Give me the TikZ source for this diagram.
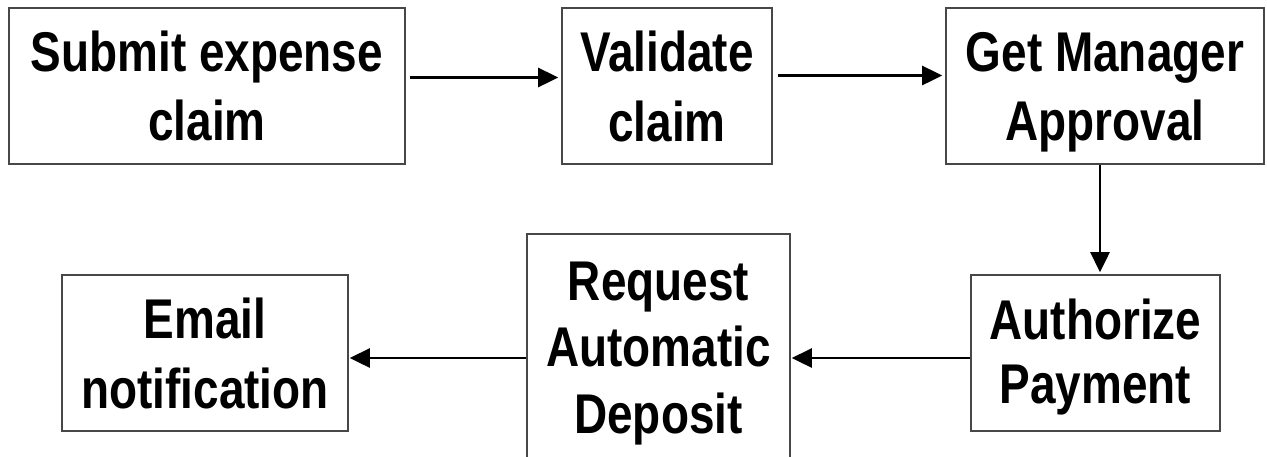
\documentclass[tikz,border=0pt]{standalone}
\usepackage{fontspec}
\setmainfont{Liberation Sans}
\newfontfamily\boxfont{Liberation Sans}[FakeStretch=0.82]
\usetikzlibrary{arrows.meta}
\begin{document}
\begin{tikzpicture}[x=1pt,y=-1pt,
  stepbox/.style={draw=black!72,line width=1.6pt,rectangle,inner sep=0pt,
    align=center,minimum width=#1,minimum height=156pt},
  % line spacing, then the text block measured from cap top to last baseline
  skip/.style args={#1/#2/#3}{font=\boxfont\bfseries\fontsize{56}{#1}\selectfont,
    text height=#2,text depth=#3},
  flow/.style={line width=2.7pt,-{Triangle[length=20pt,width=19pt]}}]
\useasboundingbox (0,0) rectangle (1267,456);
\node[stepbox=396pt,skip=69/109pt/-3pt] (submit) at (207,86) {Submit expense\\claim};
\node[stepbox=210pt,skip=70/110pt/-4pt] (validate) at (667,86) {Validate\\claim};
\node[stepbox=318pt,skip=69/109pt/-4pt] (manager) at (1105,86) {Get Manager\\Approval};
\node[stepbox=249pt,skip=64/104pt/3pt] (authorize) at (1095.5,353) {Authorize\\Payment};
\node[stepbox=263pt,skip=66.5/173pt/-1pt,minimum height=225pt] (deposit) at (658.5,346.5) {Request\\Automatic\\Deposit};
\node[stepbox=286pt,skip=70/110pt/-6pt] (email) at (205,353) {Email\\notification};
% horizontal flow along the top row
\draw[flow,shorten <=4pt,shorten >=3pt] ([yshift=8.5pt]submit.east) -- ([yshift=8.5pt]validate.west);
\draw[flow,shorten <=5pt,shorten >=3pt] ([yshift=10.5pt]validate.east) -- ([yshift=10.5pt]manager.west);
% down to the second row
\draw[flow,shorten >=2pt] ([xshift=-5pt]manager.south) -- ([xshift=4.5pt]authorize.north);
% back along the bottom row
\draw[flow,shorten >=1pt] ([yshift=-5pt]authorize.west) -- ([yshift=-11.5pt]deposit.east);
\draw[flow,shorten >=1pt] ([yshift=-11.5pt]deposit.west) -- ([yshift=-5pt]email.east);
\end{tikzpicture}
\end{document}
